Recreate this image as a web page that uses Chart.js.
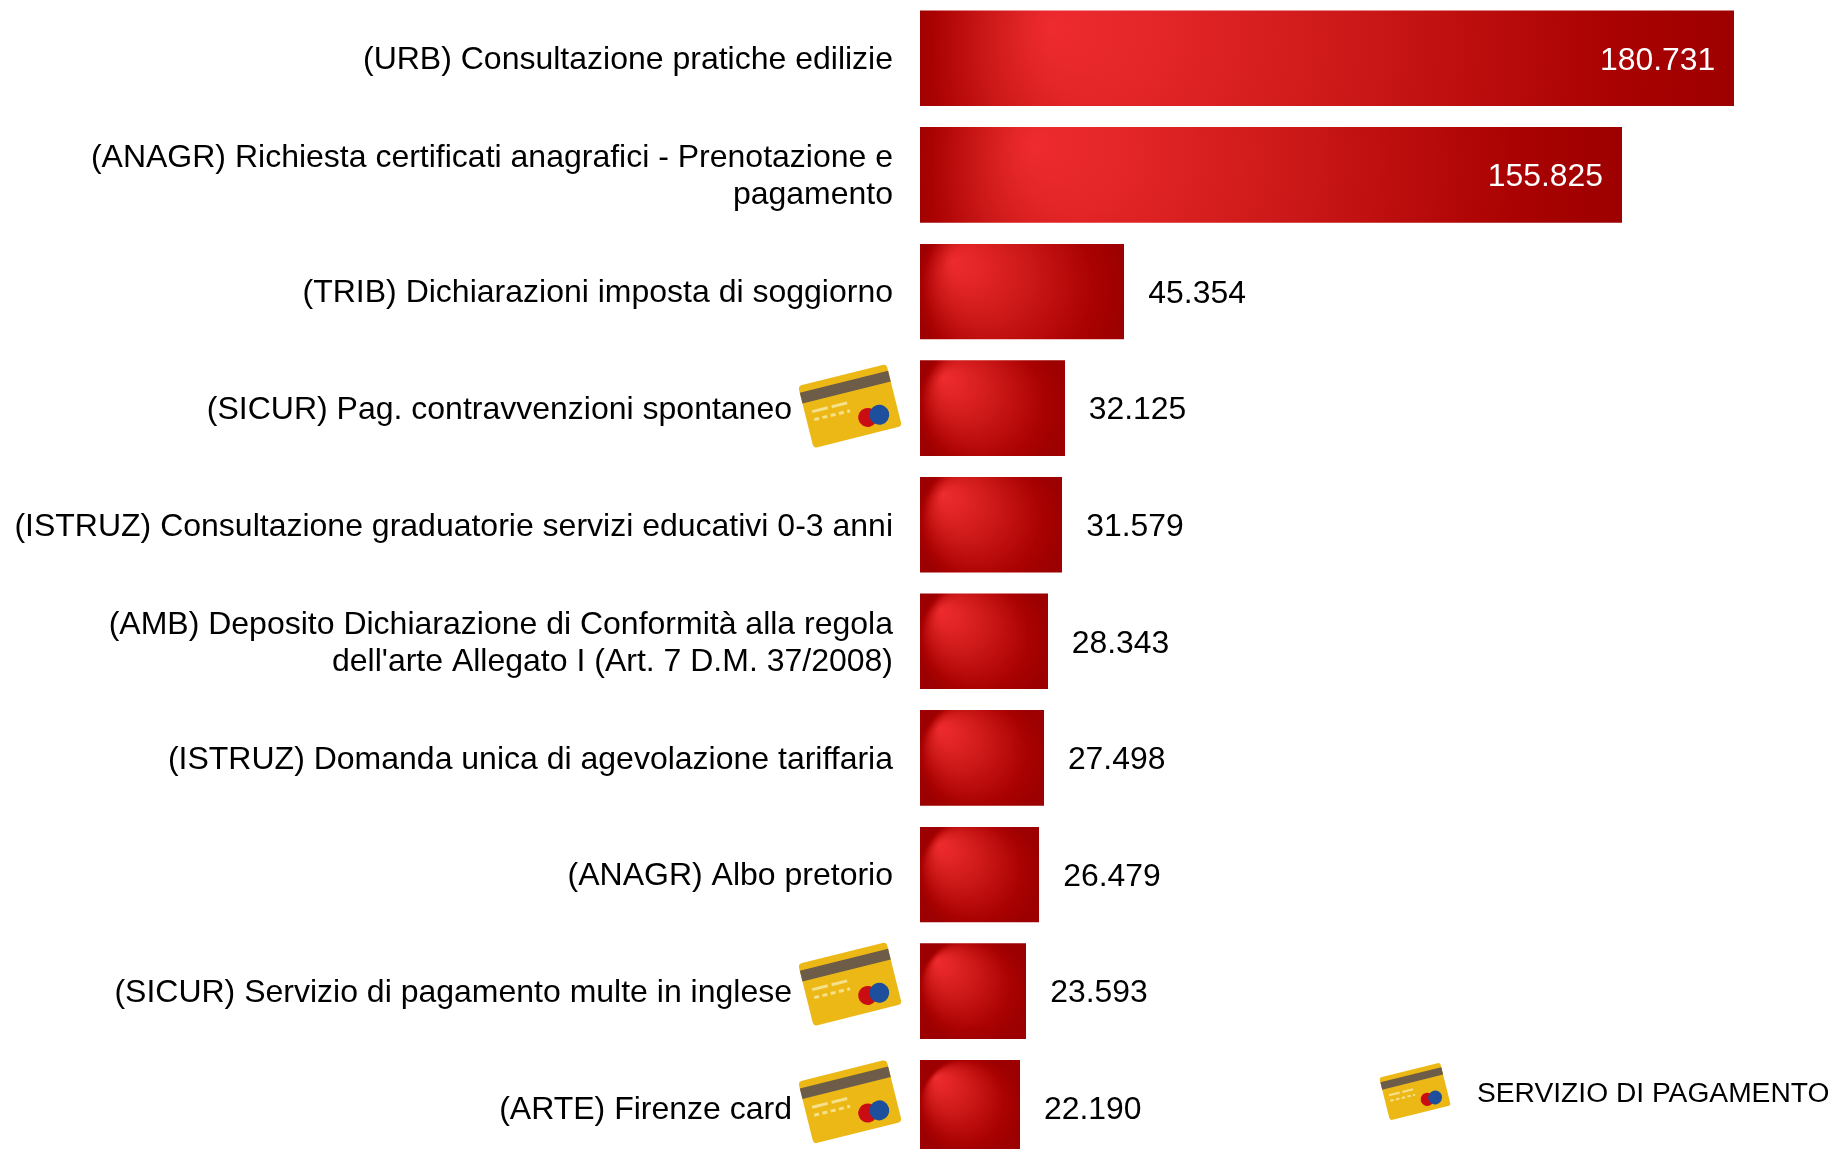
<!DOCTYPE html>
<html><head><meta charset="utf-8">
<script src="https://cdn.jsdelivr.net/npm/chart.js@4/dist/chart.umd.min.js"></script>
<style>html,body{margin:0;padding:0;background:#fff;overflow:hidden;height:1149px}canvas{display:block}</style>
</head><body><canvas id="c" width="1835" height="1166"></canvas>
<script>
const categories = [
  "(URB) Consultazione pratiche edilizie",
  ["(ANAGR) Richiesta certificati anagrafici - Prenotazione e","pagamento"],
  "(TRIB) Dichiarazioni imposta di soggiorno",
  "(SICUR) Pag. contravvenzioni spontaneo",
  "(ISTRUZ) Consultazione graduatorie servizi educativi 0-3 anni",
  ["(AMB) Deposito Dichiarazione di Conformità alla regola","dell'arte Allegato I (Art. 7 D.M. 37/2008)"],
  "(ISTRUZ) Domanda unica di agevolazione tariffaria",
  "(ANAGR) Albo pretorio",
  "(SICUR) Servizio di pagamento multe in inglese",
  "(ARTE) Firenze card"
];
const values = [180731,155825,45354,32125,31579,28343,27498,26479,23593,22190];
const isPayment = [false,false,false,true,false,false,false,false,true,true];
const iconLift = [0,0,0,2,0,0,0,0,7,6];
const legendText = "SERVIZIO DI PAGAMENTO";
const FONT = '"Liberation Sans", Arial, sans-serif';
const fmt = v => String(v).replace(/\B(?=(\d{3})+$)/g,'.');

function drawCard(ctx,cx,cy,s){
  const W=91,H=64;
  ctx.save();ctx.translate(cx,cy);ctx.rotate(-14*Math.PI/180);ctx.scale(s,s);
  ctx.fillStyle='#ecb816';ctx.beginPath();ctx.roundRect(-W/2,-H/2,W,H,4);ctx.fill();
  ctx.fillStyle='#6c5c48';ctx.fillRect(-W/2,-H/2+7,W,11);
  ctx.fillStyle='#f5e08c';
  ctx.fillRect(-38,-5.3,16,3);ctx.fillRect(-18,-5.3,16,3);
  for(let i=0;i<4;i++)ctx.fillRect(-38+i*8.5,3,5,3);
  ctx.fillRect(-4,3,3,3);
  ctx.fillStyle='#c90d12';ctx.beginPath();ctx.arc(14.4,15.3,9.5,0,7);ctx.fill();
  ctx.fillStyle='#1d4f9c';ctx.beginPath();ctx.arc(26.3,15.5,10,0,7);ctx.fill();
  ctx.restore();
}

function barFill(context){
  const chart=context.chart;
  if(context.type!=='data'||!chart.scales.x||!chart.chartArea)return '#c00000';
  const v=values[context.dataIndex];
  const L=Math.round(chart.scales.x.getPixelForValue(0));
  const R=Math.round(chart.scales.x.getPixelForValue(v));
  const yc=chart.scales.y.getPixelForValue(context.dataIndex);
  const T=Math.floor(yc-47.5),w=R-L,h=96;
  const off=document.createElement('canvas');off.width=w;off.height=h;
  const g=off.getContext('2d');
  const grad=g.createRadialGradient(.16*w,.18*h,0,.5*w,.5*h,.52*w);
  grad.addColorStop(0,'#ee2b30');
  grad.addColorStop(.15,'#e42628');
  grad.addColorStop(.4,'#cf1a1a');
  grad.addColorStop(.6,'#bd0e0e');
  grad.addColorStop(.8,'#aa0202');
  grad.addColorStop(1,'#9c0000');
  g.fillStyle=grad;g.fillRect(0,0,w,h);
  const p=g.createPattern(off,'no-repeat');
  p.setTransform(new DOMMatrix().translate(L,T));
  return p;
}

const extras={
  id:'extras',
  beforeDraw(chart){
    chart.scales.y.getLabelItems().forEach((it,i)=>{
      if(isPayment[i]&&!it._moved){it.options.translation[0]-=101;it._moved=true;}
      if(!it._nudged){it.options.translation[1]+=2;it._nudged=true;}
    });
  },
  afterDraw(chart){
    const ctx=chart.ctx,meta=chart.getDatasetMeta(0),y=chart.scales.y,x=chart.scales.x;
    ctx.save();
    ctx.font='31.9px '+FONT;ctx.textBaseline='middle';
    meta.data.forEach((bar,i)=>{
      const py=y.getPixelForValue(i)+2.5;
      if(values[i]>100000){ctx.fillStyle='#fff';ctx.textAlign='right';ctx.fillText(fmt(values[i]),bar.x-19,py);}
      else{ctx.fillStyle='#000';ctx.textAlign='left';ctx.fillText(fmt(values[i]),bar.x+24,py);}
      if(isPayment[i])drawCard(ctx,x.left-70,y.getPixelForValue(i)-iconLift[i],1);
    });
    drawCard(ctx,1415,1091.5,.69);
    ctx.fillStyle='#000';ctx.textAlign='left';ctx.font='28.2px '+FONT;
    ctx.fillText(legendText,1477,1094);
    ctx.restore();
  }
};

new Chart(document.getElementById('c'),{
  type:'bar',
  data:{labels:categories,datasets:[{data:values,backgroundColor:barFill,barThickness:95,borderWidth:0}]},
  options:{
    indexAxis:'y',responsive:false,animation:false,
    layout:{padding:0},
    plugins:{legend:{display:false},tooltip:{enabled:false}},
    scales:{
      x:{display:false,min:0,max:203100,grid:{display:false}},
      y:{
        afterFit(s){s.width=920;s.paddingTop=0;s.paddingBottom=0;},
        grid:{display:false,drawTicks:false},border:{display:false},
        ticks:{color:'#000',padding:27,autoSkip:false,font:{family:FONT,size:32,lineHeight:1.16}}
      }
    }
  },
  plugins:[extras]
});
</script></body></html>
